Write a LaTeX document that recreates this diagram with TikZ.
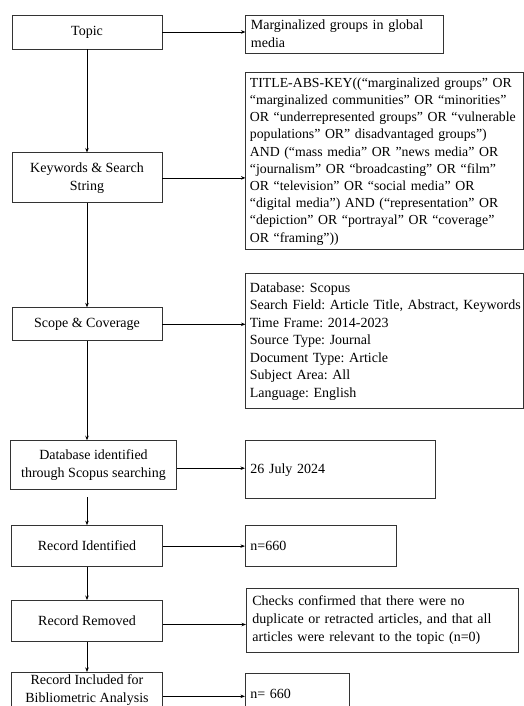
\documentclass[tikz,border=0pt]{standalone}
\usepackage{fontspec}
\setmainfont{Liberation Serif}
\frenchspacing
\usetikzlibrary{arrows.meta, positioning}
\tikzset{
  stepbox/.style={rectangle, draw=black!80, line width=0.9pt, align=center,
                  minimum width=150pt, inner sep=2pt,
                  font=\fontsize{14}{18}\selectfont},
  infobox/.style={rectangle, draw=black!80, line width=0.9pt, align=left,
                  inner xsep=5pt, inner ysep=2pt,
                  font=\fontsize{14}{18}\selectfont},
  arrow/.style={-{Stealth[length=4.5pt, width=3.5pt]}, line width=0.7pt},
}
\begin{document}
\begin{tikzpicture}[x=1pt, y=1pt]
  \useasboundingbox (0,0) rectangle (524,-706);

  % steps on the left
  \node[stepbox, minimum height=34pt] (topic) at (87,-32) {Topic};
  \node[stepbox, minimum height=50pt, below=103pt of topic] (kw)
    {Keywords \& Search\\ String};
  \node[stepbox, minimum height=33pt, below=104pt of kw] (scope)
    {Scope \& Coverage};
  \node[stepbox, minimum width=166pt, minimum height=49pt,
        below=99pt of scope, xshift=6.5pt] (db)
    {Database identified\\ through Scopus searching};
  \node[stepbox, minimum width=151pt, minimum height=41pt,
        below=35pt of db, xshift=-6.5pt] (rid) {Record Identified};
  \node[stepbox, minimum width=151pt, minimum height=41pt,
        below=33pt of rid] (rrm) {Record Removed};
  \node[stepbox, minimum width=151pt, minimum height=40pt, text depth=10pt,
        below=30pt of rrm] (rinc) {Record Included for\\ Bibliometric Analysis};

  % details on the right
  \node[infobox, text width=188pt, minimum height=38pt,
        right=83pt of topic, yshift=-2pt] (topicv)
    {Marginalized groups in global\\ media};
  \node[infobox, inner xsep=4pt, text width=270pt, minimum height=177pt,
        font=\fontsize{13.8}{17.2}\selectfont,
        right=83pt of kw, yshift=16.5pt] (kwv)
    {TITLE-ABS-KEY((“marginalized groups” OR\\
     “marginalized communities” OR “minorities”\\
     OR “underrepresented groups” OR “vulnerable\\
     populations” OR” disadvantaged groups”)\\
     AND (“mass media” OR "news media" OR\\
     “journalism” OR “broadcasting” OR “film”\\
     OR “television” OR “social media” OR\\
     “digital media”) AND (“representation” OR\\
     “depiction” OR “portrayal” OR “coverage”\\
     OR “framing”))};
  \node[infobox, inner xsep=4pt, text width=270pt, minimum height=135pt,
        font=\fontsize{14}{17.5}\selectfont,
        right=83pt of scope, yshift=-17pt] (scopev)
    {Database: Scopus\\
     \mbox{Search Field: Article Title, Abstract, Keywords}\\
     Time Frame: 2014-2023\\
     Source Type: Journal\\
     Document Type: Article\\
     Subject Area: All\\
     Language: English};
  \node[infobox, text width=180pt, minimum height=58pt,
        right=68pt of db, yshift=-4.5pt] (dbv) {26 July 2024};
  \node[infobox, text width=141pt, minimum height=41pt,
        right=82pt of rid] (ridv) {n=660};
  \node[infobox, inner xsep=6pt, text width=260pt, minimum height=64pt,
        right=83pt of rrm, yshift=0.5pt] (rrmv)
    {Checks confirmed that there were no\\
     duplicate or retracted articles, and that all\\
     articles were relevant to the topic (n=0)};
  \node[infobox, text width=94pt, minimum height=42pt,
        right=82pt of rinc, yshift=-1pt] (rincv) {n= 660};

  % flow down
  \draw[arrow] (topic) -- (kw);
  \draw[arrow] (kw) -- (scope);
  \draw[arrow] (scope.south) -- (scope.south |- db.north);
  \draw[arrow, shorten <=7pt] (rid.north |- db.south) -- (rid.north);
  \draw[arrow] (rid) -- (rrm);
  \draw[arrow] (rrm) -- (rinc);

  % flow across
  \draw[arrow] (topic.east) -- (topic.east -| topicv.west);
  \draw[arrow] (kw.east) -- (kw.east -| kwv.west);
  \draw[arrow] (scope.east) -- (scope.east -| scopev.west);
  \draw[arrow] ([yshift=-3pt]db.east) -- ([yshift=-3pt]db.east -| dbv.west);
  \draw[arrow] (rid.east) -- (rid.east -| ridv.west);
  \draw[arrow] ([yshift=-3.5pt]rrm.east) -- ([yshift=-3.5pt]rrm.east -| rrmv.west);
  \draw[arrow] ([yshift=-3pt]rinc.east) -- ([yshift=-3pt]rinc.east -| rincv.west);
\end{tikzpicture}
\end{document}
